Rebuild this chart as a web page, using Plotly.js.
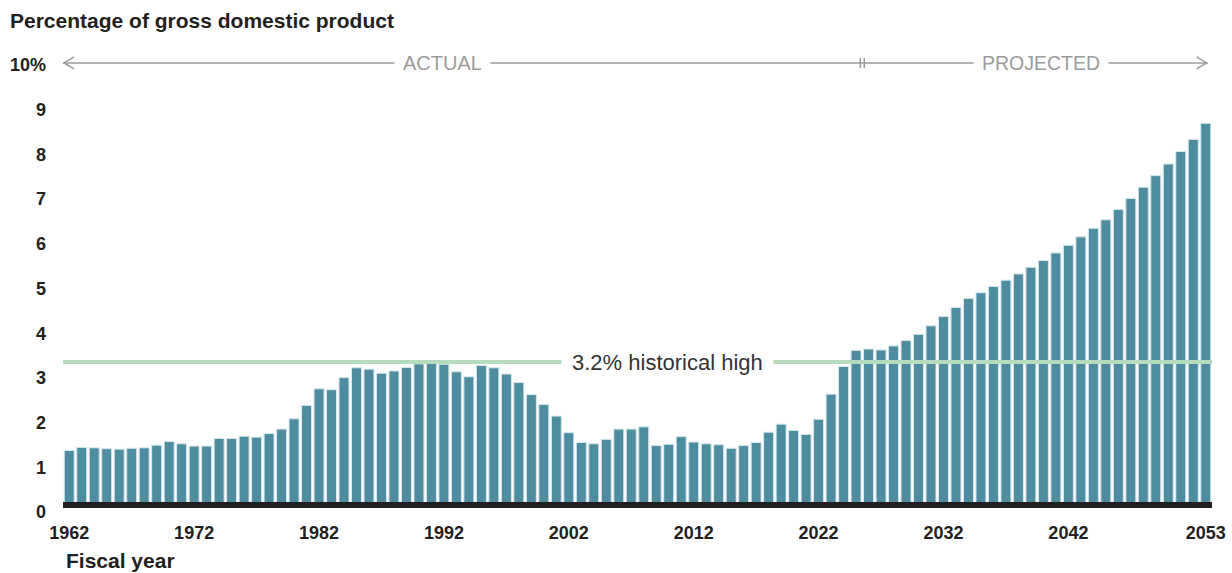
<!DOCTYPE html>
<html>
<head>
<meta charset="utf-8">
<script src="https://cdn.plot.ly/plotly-3.0.1.min.js"></script>
<style>html,body{margin:0;padding:0;background:#fff;}#chart{width:1232px;height:573px;}</style>
</head>
<body>
<div id="chart"></div>
<script>
// Fiscal years
const years = [
  1962,1963,1964,1965,1966,1967,1968,1969,1970,1971,1972,1973,1974,1975,1976,1977,1978,1979,1980,1981,
  1982,1983,1984,1985,1986,1987,1988,1989,1990,1991,1992,1993,1994,1995,1996,1997,1998,1999,2000,2001,
  2002,2003,2004,2005,2006,2007,2008,2009,2010,2011,2012,2013,2014,2015,2016,2017,2018,2019,2020,2021,
  2022,2023,2024,2025,2026,2027,2028,2029,2030,2031,2032,2033,2034,2035,2036,2037,2038,2039,2040,2041,
  2042,2043,2044,2045,2046,2047,2048,2049,2050,2051,2052,2053
];
// Net interest, percentage of GDP
const values = [
  1.22,1.29,1.28,1.26,1.25,1.27,1.28,1.34,1.42,1.37,1.32,1.32,1.49,1.49,1.54,1.52,1.60,1.70,1.93,2.23,
  2.60,2.58,2.85,3.07,3.04,2.95,3.00,3.08,3.16,3.17,3.15,2.98,2.87,3.12,3.07,2.93,2.74,2.47,2.25,1.99,
  1.62,1.40,1.37,1.47,1.70,1.70,1.75,1.33,1.36,1.53,1.41,1.37,1.35,1.27,1.33,1.40,1.63,1.81,1.67,1.58,
  1.92,2.48,3.10,3.46,3.49,3.47,3.56,3.68,3.82,4.01,4.22,4.42,4.62,4.75,4.89,5.03,5.17,5.32,5.47,5.64,
  5.81,6.00,6.19,6.38,6.61,6.86,7.11,7.37,7.63,7.91,8.18,8.54
];
const xTickVals = [1962,1972,1982,1992,2002,2012,2022,2032,2042,2053];
const xTickText = ['1962','1972','1982','1992','2002','2012','2022','2032','2042','2053'];
const yTickVals = [0,1,2,3,4,5,6,7,8,9,10];
const yTickText = ['0','1','2','3','4','5','6','7','8','9','10%'];
const historicalHigh = 3.2;
const historicalHighLabel = '3.2% historical high';
const actualLabel = 'ACTUAL';
const projectedLabel = 'PROJECTED';
const lastActualBoundary = 2025.5;

const FONT = 'Liberation Sans, Arial, Helvetica, sans-serif';
const DARK = '#231f20';
const GRAY = '#9b9b9b';
const arrowY = 9.89;

const trace = {
  type: 'bar',
  x: years,
  y: values,
  marker: {color: '#4e8ca0', line: {color: '#d6e7ed', width: 1}},
  hoverinfo: 'skip'
};

const layout = {
  width: 1232, height: 573,
  margin: {l: 63, r: 20, t: 56, b: 59},
  paper_bgcolor: '#fff', plot_bgcolor: '#fff',
  bargap: 0.2,
  showlegend: false,
  font: {family: FONT, color: DARK},
  title: {
    text: '<b>Percentage of gross domestic product</b>',
    font: {family: FONT, size: 21, color: DARK},
    xref: 'container', x: 10/1232, xanchor: 'left',
    yref: 'container', y: 1 - 21/573, yanchor: 'middle'
  },
  xaxis: {
    range: [1961.5, 2053.5],
    tickmode: 'array', tickvals: xTickVals, ticktext: xTickText,
    ticks: '', showgrid: false, zeroline: false, showline: false,
    tickfont: {family: FONT, size: 18, color: DARK, weight: 'bold'},
    ticklabelstandoff: 6,
    fixedrange: true
  },
  yaxis: {
    range: [-0.2, 10.046],
    tickmode: 'array', tickvals: yTickVals, ticktext: yTickText,
    ticks: '', showgrid: false, zeroline: false, showline: false,
    tickfont: {family: FONT, size: 18, color: DARK, weight: 'bold'},
    ticklabelstandoff: 16,
    ticklabelshift: 7,
    fixedrange: true
  },
  shapes: [
    // baseline
    {type: 'line', xref: 'paper', x0: 0, x1: 1, yref: 'y', y0: 0, y1: 0,
     line: {color: DARK, width: 6}, layer: 'above'},
    // historical high line
    {type: 'line', xref: 'paper', x0: 0, x1: 1, yref: 'y', y0: historicalHigh, y1: historicalHigh,
     line: {color: '#b6dcc0', width: 4}, layer: 'above'},
    // actual/projected arrow line
    {type: 'line', xref: 'x', x0: 1961.5, x1: 2053.15, yref: 'y', y0: arrowY, y1: arrowY,
     line: {color: GRAY, width: 1.5}, layer: 'above'},
    // left chevron
    {type: 'path', xref: 'x', xsizemode: 'pixel', xanchor: 1961.5, yref: 'y', ysizemode: 'pixel', yanchor: arrowY,
     path: 'M 11 6 L 1 0 L 11 -6', line: {color: GRAY, width: 1.5}, layer: 'above'},
    // right chevron
    {type: 'path', xref: 'x', xsizemode: 'pixel', xanchor: 2053.15, yref: 'y', ysizemode: 'pixel', yanchor: arrowY,
     path: 'M -11 6 L -1 0 L -11 -6', line: {color: GRAY, width: 1.5}, layer: 'above'},
    // divider ticks
    {type: 'path', xref: 'x', xsizemode: 'pixel', xanchor: lastActualBoundary, yref: 'y', ysizemode: 'pixel', yanchor: arrowY,
     path: 'M -2 5 L -2 -5 M 2 5 L 2 -5', line: {color: GRAY, width: 1.5}, layer: 'above'}
  ],
  annotations: [
    {text: actualLabel, xref: 'x', x: 1991.9, yref: 'y', y: arrowY, showarrow: false,
     font: {family: FONT, size: 20, color: GRAY}, bgcolor: '#fff', borderpad: 8, xanchor: 'center', yanchor: 'middle'},
    {text: projectedLabel, xref: 'x', x: 2039.8, yref: 'y', y: arrowY, showarrow: false,
     font: {family: FONT, size: 19.5, color: GRAY}, bgcolor: '#fff', borderpad: 8, xanchor: 'center', yanchor: 'middle'},
    {text: historicalHighLabel, xref: 'x', x: 2009.9, yref: 'y', y: historicalHigh, showarrow: false,
     font: {family: FONT, size: 22, color: '#333'}, bgcolor: '#fff', borderpad: 10, xanchor: 'center', yanchor: 'middle'},
    {text: '<b>Fiscal year</b>', xref: 'paper', x: 0, xanchor: 'left', xshift: 1,
     yref: 'paper', y: 0, yanchor: 'middle', yshift: -46, showarrow: false,
     font: {family: FONT, size: 21, color: DARK}}
  ]
};

Plotly.newPlot('chart', [trace], layout, {displayModeBar: false, staticPlot: true});
</script>
</body>
</html>
